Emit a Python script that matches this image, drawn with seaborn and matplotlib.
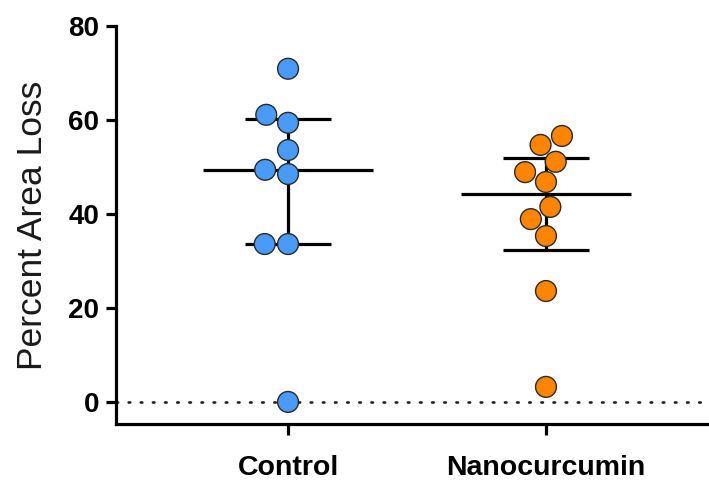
import numpy as np
import pandas as pd
import matplotlib
matplotlib.use("Agg")
import matplotlib.pyplot as plt
import seaborn as sns

groups = ["Control", "Nanocurcumin"]
control = [70.9, 61.1, 59.4, 53.6, 49.4, 48.5, 33.6, 33.6, 0.0]
nanocurcumin = [56.6, 54.7, 51.1, 48.9, 46.8, 41.5, 38.9, 35.3, 23.6, 3.2]
colors = ["#4A9AF8", "#FF8500"]

df = pd.DataFrame({
    "group": ["Control"] * len(control) + ["Nanocurcumin"] * len(nanocurcumin),
    "value": control + nanocurcumin,
})

sns.set_style("ticks")
plt.rcParams['font.family'] = ['Liberation Sans', 'DejaVu Sans']
plt.rcParams['text.color'] = 'black'
plt.rcParams['xtick.color'] = 'black'
plt.rcParams['ytick.color'] = 'black'

fig = plt.figure(figsize=(7.09, 4.90), dpi=100)
ax = fig.add_axes([116 / 709, 66 / 490, 593 / 709, 398 / 490])

# dotted zero line
ax.axhline(0, color="#222222", lw=1.9, ls=(0, (0.6, 4.0)), dash_capstyle="round", zorder=1)

# median with interquartile range
for i, vals in enumerate([control, nanocurcumin]):
    med = np.median(vals)
    q1, q3 = np.percentile(vals, [25, 75], method="weibull")
    ax.hlines(med, i - 0.33, i + 0.33, color="black", lw=2.3, zorder=2)
    ax.vlines(i, q1, q3, color="black", lw=2.3, zorder=2)
    ax.hlines([q1, q3], i - 0.165, i + 0.165, color="black", lw=2.3, zorder=2)

sns.swarmplot(data=df, x="group", y="value", hue="group", order=groups,
              palette=colors, size=15, edgecolor="#2a2a2a", linewidth=1.0,
              legend=False, ax=ax, zorder=3, clip_on=False)

ax.set_xlim(-0.667, 1.632)
ax.set_ylim(-4.7, 80)
ax.set_yticks([0, 20, 40, 60, 80])
ax.spines["left"].set_bounds(-4.7, 80)
for s in ["top", "right"]:
    ax.spines[s].set_visible(False)
for s in ["left", "bottom"]:
    ax.spines[s].set_linewidth(2.3)
    ax.spines[s].set_color("black")

ax.tick_params(axis="y", length=7, width=2.3, labelsize=20, pad=5, labelcolor="black")
ax.tick_params(axis="x", length=8, width=2.3, labelsize=20.5, pad=14, labelcolor="black")
for lab in ax.get_yticklabels() + ax.get_xticklabels():
    lab.set_fontweight("bold")

ax.set_xlabel("")
ax.set_ylabel("Percent Area Loss", fontsize=25.5, color="#1a1a1a", labelpad=14)

fig.savefig("out.png", dpi=100)
